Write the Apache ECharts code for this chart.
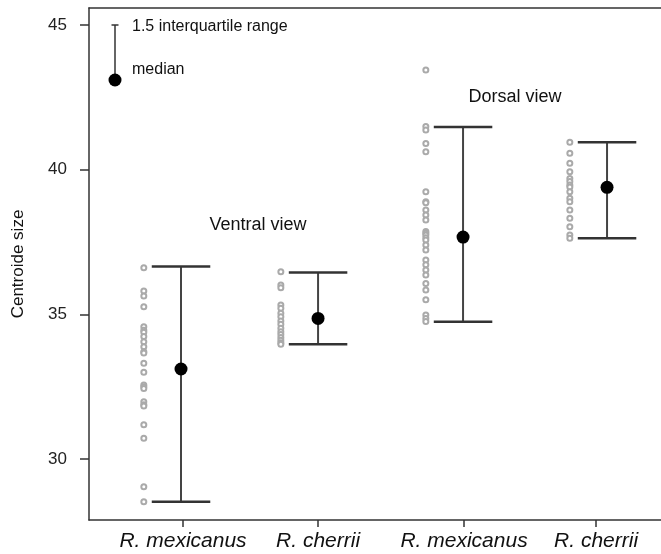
<!DOCTYPE html>
<html>
<head>
<meta charset="utf-8">
<script src="https://cdn.jsdelivr.net/npm/echarts@6/dist/echarts.min.js"></script>
<style>
  html, body { margin: 0; padding: 0; background: #fff; }
  #chart { width: 661px; height: 554px; }
</style>
</head>
<body>
<div id="chart"></div>
<script>
// Group labels along the x axis
const categories = ['R. mexicanus', 'R. cherrii', 'R. mexicanus', 'R. cherrii'];
const yTicks = [30, 35, 40, 45];

// Individual centroid sizes per group
const ventralMexicanus = [36.61, 35.81, 35.63, 35.26, 34.57, 34.45, 34.38, 34.23, 34.05, 33.88, 33.71, 33.66,
  33.31, 33.00, 32.56, 32.50, 32.44, 31.98, 31.87, 31.83, 31.18, 30.72, 29.04, 28.52];
const ventralCherrii = [36.47, 36.01, 35.92, 35.32, 35.21, 35.04, 34.92, 34.77, 34.66, 34.52, 34.40,
  34.30, 34.20, 34.10, 34.02, 33.97];
const dorsalMexicanus = [43.45, 41.49, 41.37, 40.91, 40.62, 39.24, 38.89, 38.86, 38.61, 38.43, 38.26, 37.86,
  37.80, 37.74, 37.65, 37.57, 37.40, 37.22, 36.88, 36.71, 36.53, 36.36, 36.07, 35.84, 35.50, 34.98, 34.86, 34.75];
const dorsalCherrii = [40.95, 40.57, 40.22, 39.93, 39.70, 39.59, 39.47, 39.40, 39.24, 39.01, 38.89, 38.61,
  38.32, 38.03, 37.74, 37.63];

// Summary statistics: median and 1.5 IQR whisker limits
const medians = [33.11, 34.86, 37.67, 39.39];
const whiskerLow = [28.52, 33.97, 34.74, 37.63];
const whiskerHigh = [36.65, 36.45, 41.48, 40.95];

// Layout: slot positions on the x scale
const groupPoints = [ventralMexicanus, ventralCherrii, dorsalMexicanus, dorsalCherrii];
const barX = [1, 1.965, 2.986, 4];
const tickX = [1.014, 1.965, 2.993, 3.923];
const stripOffset = -0.262;
const capHalf = 0.206;

const pointData = [];
groupPoints.forEach((arr, g) => arr.forEach(v => pointData.push([barX[g] + stripOffset, v])));
const barData = medians.map((m, g) => [barX[g], whiskerLow[g], whiskerHigh[g]]);
const medianData = medians.map((m, g) => [barX[g], m]);

const FONT = 'Liberation Sans, Arial, Helvetica, sans-serif';
const frameLine = { show: true, lineStyle: { color: '#333', width: 1.5 } };
const chart = echarts.init(document.getElementById('chart'), null, { renderer: 'canvas' });

chart.setOption({
  animation: false,
  backgroundColor: '#fff',
  grid: { left: 89, top: 8, right: 0, bottom: 34 },
  xAxis: [{
    type: 'value', min: 0.352, max: 4.380,
    splitLine: { show: false },
    axisLine: frameLine,
    axisTick: { show: true, customValues: tickX, length: 7, lineStyle: { color: '#333', width: 1.5 } },
    axisLabel: {
      customValues: tickX,
      formatter: v => {
        const i = tickX.findIndex(t => Math.abs(t - v) < 1e-6);
        return i >= 0 ? categories[i] : '';
      },
      fontFamily: FONT, fontStyle: 'italic', fontSize: 21, color: '#111', margin: 11
    }
  }, {
    // top edge of the plot frame
    type: 'value', position: 'top', min: 0.352, max: 4.380,
    splitLine: { show: false }, axisLine: frameLine,
    axisTick: { show: false }, axisLabel: { show: false }
  }],
  yAxis: {
    type: 'value', min: 27.89, max: 45.59,
    splitLine: { show: false },
    axisLine: frameLine,
    axisTick: { show: true, customValues: yTicks, length: 9, lineStyle: { color: '#333', width: 1.5 } },
    axisLabel: { customValues: yTicks, fontFamily: FONT, fontSize: 17, color: '#222', margin: 22 },
    name: 'Centroide size', nameLocation: 'middle', nameRotate: 90, nameGap: 62,
    nameTextStyle: { fontFamily: FONT, fontSize: 17, color: '#111' }
  },
  graphic: [
    { type: 'line', shape: { x1: 115, y1: 25, x2: 115, y2: 78 }, style: { stroke: '#333', lineWidth: 1.5 } },
    { type: 'line', shape: { x1: 111.5, y1: 25, x2: 118.5, y2: 25 }, style: { stroke: '#333', lineWidth: 1.5 } },
    { type: 'circle', shape: { cx: 115, cy: 80, r: 6.5 }, style: { fill: '#000' } },
    { type: 'text', x: 132, y: 27, style: { text: '1.5 interquartile range', font: '16px ' + FONT, fill: '#111', verticalAlign: 'middle' } },
    { type: 'text', x: 132, y: 70, style: { text: 'median', font: '16px ' + FONT, fill: '#111', verticalAlign: 'middle' } },
    { type: 'text', x: 258, y: 225, style: { text: 'Ventral view', font: '18px ' + FONT, fill: '#111', align: 'center', verticalAlign: 'middle' } },
    { type: 'text', x: 515, y: 97, style: { text: 'Dorsal view', font: '18px ' + FONT, fill: '#111', align: 'center', verticalAlign: 'middle' } }
  ],
  series: [
    {
      type: 'scatter', data: pointData, symbol: 'emptyCircle', symbolSize: 5,
      itemStyle: { color: '#aaaaaa', borderWidth: 1, opacity: 1 }, z: 2
    },
    {
      type: 'custom', data: barData, z: 3,
      renderItem: (params, api) => {
        const x = api.value(0);
        const lo = api.coord([x, api.value(1)]);
        const hi = api.coord([x, api.value(2)]);
        const l = api.coord([x - capHalf, api.value(1)])[0];
        const r = api.coord([x + capHalf, api.value(1)])[0];
        return {
          type: 'group', children: [
            { type: 'line', shape: { x1: lo[0], y1: lo[1], x2: hi[0], y2: hi[1] }, style: { stroke: '#444', lineWidth: 2 } },
            { type: 'line', shape: { x1: l, y1: hi[1], x2: r, y2: hi[1] }, style: { stroke: '#333', lineWidth: 2.5 } },
            { type: 'line', shape: { x1: l, y1: lo[1], x2: r, y2: lo[1] }, style: { stroke: '#333', lineWidth: 2.5 } }
          ]
        };
      }
    },
    {
      type: 'scatter', data: medianData, symbol: 'circle', symbolSize: 13,
      itemStyle: { color: '#000', opacity: 1 }, z: 4
    }
  ]
});
</script>
</body>
</html>
